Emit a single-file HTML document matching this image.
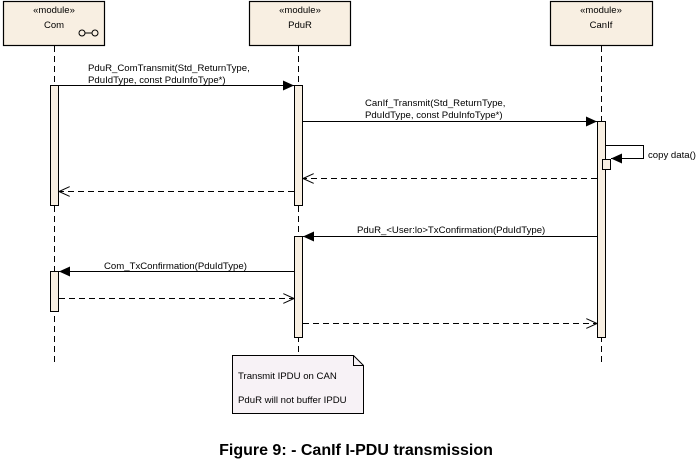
<!DOCTYPE html>
<html><head><meta charset="utf-8"><style>
html,body{margin:0;padding:0;background:#fff;}
svg{display:block;font-family:"Liberation Sans",sans-serif;}
</style></head><body>
<svg width="700" height="462" viewBox="0 0 700 462" xmlns="http://www.w3.org/2000/svg">
<defs>
<marker id="f" markerWidth="12" markerHeight="10" refX="11" refY="5" orient="auto" markerUnits="userSpaceOnUse"><path d="M0,0 L11,5 L0,10 z" fill="#000"/></marker>
<marker id="o" markerWidth="12" markerHeight="10" refX="11" refY="5" orient="auto" markerUnits="userSpaceOnUse"><path d="M0,0 L11,5 L0,10" fill="none" stroke="#000" stroke-width="1"/></marker>
</defs>
<g fill="#f8efe2" stroke="#000" stroke-width="1.2">
<rect x="3.5" y="1.5" width="101" height="44"/>
<rect x="249.5" y="1.5" width="101" height="44"/>
<rect x="550.5" y="1.5" width="102" height="44"/>
</g>
<g font-size="9.5" text-anchor="middle" fill="#000">
<text x="54" y="13">«module»</text><text x="54" y="28">Com</text>
<text x="300" y="13">«module»</text><text x="300" y="28">PduR</text>
<text x="601" y="13">«module»</text><text x="601" y="28">CanIf</text>
</g>
<circle cx="82" cy="33" r="3" fill="none" stroke="#000"/><circle cx="95" cy="33" r="3" fill="none" stroke="#000"/><line x1="85" y1="33" x2="92" y2="33" stroke="#000"/>
<g stroke="#000" stroke-dasharray="6,4" stroke-width="1">
<line x1="54.5" y1="46" x2="54.5" y2="362"/>
<line x1="298.5" y1="46" x2="298.5" y2="362"/>
<line x1="601.5" y1="46" x2="601.5" y2="362"/>
</g>
<g fill="#f8efe2" stroke="#000" stroke-width="1">
<rect x="50.5" y="85.5" width="8" height="120"/>
<rect x="50.5" y="271.5" width="8" height="40"/>
<rect x="294.5" y="85.5" width="8" height="120"/>
<rect x="294.5" y="236.5" width="8" height="101"/>
<rect x="597.5" y="121.5" width="8" height="216"/>
<rect x="602.5" y="159.5" width="8" height="10"/>
</g>
<g stroke="#000" stroke-width="1" fill="none">
<line x1="58" y1="85.5" x2="294" y2="85.5" marker-end="url(#f)"/>
<line x1="303" y1="121.5" x2="597" y2="121.5" marker-end="url(#f)"/>
<polyline points="606,145.5 643.5,145.5 643.5,158.5 611,158.5" marker-end="url(#f)"/>
<line x1="597" y1="178.5" x2="303" y2="178.5" stroke-dasharray="6,4" marker-end="url(#o)"/>
<line x1="294" y1="191.5" x2="59" y2="191.5" stroke-dasharray="6,4" marker-end="url(#o)"/>
<line x1="597" y1="236.5" x2="303" y2="236.5" marker-end="url(#f)"/>
<line x1="294" y1="271.5" x2="59" y2="271.5" marker-end="url(#f)"/>
<line x1="59" y1="298.5" x2="294" y2="298.5" stroke-dasharray="6,4" marker-end="url(#o)"/>
<line x1="303" y1="323.5" x2="597" y2="323.5" stroke-dasharray="6,4" marker-end="url(#o)"/>
</g>
<g font-size="9.6" fill="#000">
<text x="88" y="71">PduR_ComTransmit(Std_ReturnType,</text>
<text x="88" y="83">PduIdType, const PduInfoType*)</text>
<text x="365" y="106">CanIf_Transmit(Std_ReturnType,</text>
<text x="365" y="118">PduIdType, const PduInfoType*)</text>
<text x="648" y="158">copy data()</text>
<text x="357" y="233">PduR_&lt;User:lo&gt;TxConfirmation(PduIdType)</text>
<text x="104" y="269">Com_TxConfirmation(PduIdType)</text>
</g>
<path d="M232.5,355.5 H353.5 L363.5,365.5 V413.5 H232.5 Z" fill="#f7f2f6" stroke="#000"/>
<path d="M353.5,355.5 V365.5 H363.5" fill="none" stroke="#000"/>
<g font-size="9.6" fill="#000">
<text x="238" y="379">Transmit IPDU on CAN</text>
<text x="238" y="403">PduR will not buffer IPDU</text>
</g>
<text x="356" y="455" font-size="16" font-weight="bold" text-anchor="middle">Figure 9: - CanIf I-PDU transmission</text>
</svg>
</body></html>
